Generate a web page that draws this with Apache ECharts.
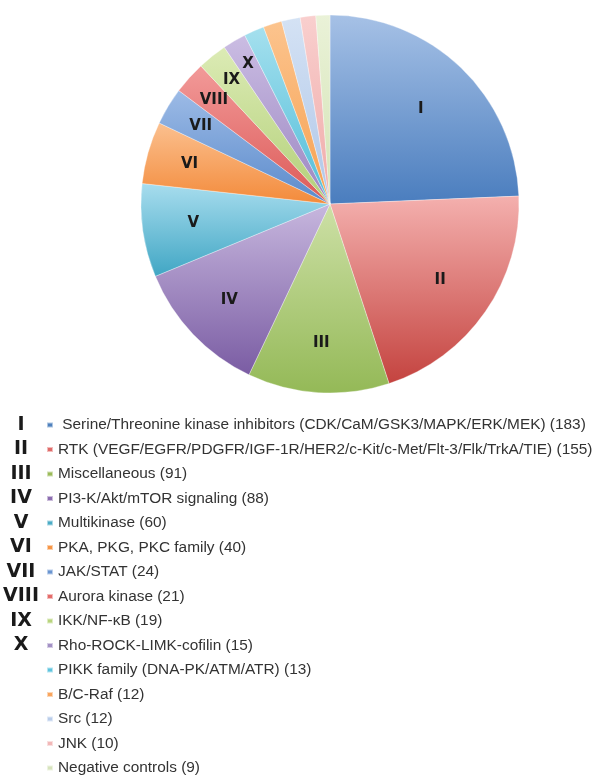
<!DOCTYPE html>
<html>
<head>
<meta charset="utf-8">
<script src="https://cdn.jsdelivr.net/npm/echarts@6/dist/echarts.min.js"></script>
<style>
html,body{margin:0;padding:0;background:#fff;}
#chart{width:601px;height:775px;}
</style>
</head>
<body>
<div id="chart"></div>
<script>
// ---- data ----
const categories = [
  'Serine/Threonine kinase inhibitors (CDK/CaM/GSK3/MAPK/ERK/MEK)',
  'RTK (VEGF/EGFR/PDGFR/IGF-1R/HER2/c-Kit/c-Met/Flt-3/Flk/TrkA/TIE)',
  'Miscellaneous',
  'PI3-K/Akt/mTOR signaling',
  'Multikinase',
  'PKA, PKG, PKC family',
  'JAK/STAT',
  'Aurora kinase',
  'IKK/NF-\u03baB',
  'Rho-ROCK-LIMK-cofilin',
  'PIKK family (DNA-PK/ATM/ATR)',
  'B/C-Raf',
  'Src',
  'JNK',
  'Negative controls'
];
const counts = [183, 155, 91, 88, 60, 40, 24, 21, 19, 15, 13, 12, 12, 10, 9];
const romanNumerals = ['I', 'II', 'III', 'IV', 'V', 'VI', 'VII', 'VIII', 'IX', 'X'];

// ---- styles ----
const lightColors = ['#A6C1E6','#F4B0AE','#CDE0A6','#C7B7DE','#A8DDEE','#FBC08F','#9DBBE6','#F29A99','#DCEBB5','#CBBDE3','#A5E0EE','#FCC48E','#D4E2F4','#F9CFCE','#EAF2D8'];
const darkColors  = ['#4A7DBE','#C4433F','#94B957','#7A5CA3','#40A6C4','#F38A3A','#5A8ACB','#DC5957','#B2CF78','#9B86C1','#4FBCD8','#F6A050','#AFC6E8','#EFAAA8','#D3E3B4'];
const solidColors = ['#4F81BD','#E06B69','#9BBB59','#8C6DB0','#4BACC6','#F79646','#6A95D1','#E46C6A','#B8D47D','#A391C5','#5EC4DE','#F9A55D','#B9CDEA','#F2B8B8','#D7E4BD'];
const labelRing = [128, 131, 136, 136, 135, 143, 148, 153, 155, 159];

const cx = 330, cy = 204, R = 189;
const legendTop = 425, rowH = 24.5, textLH = 16;

const chart = echarts.init(document.getElementById('chart'), null, {renderer: 'canvas'});

const pieData = categories.map((name, i) => ({
  name: name,
  value: counts[i],
  itemStyle: {
    color: {
      type: 'linear', x: 0, y: 0, x2: 0, y2: 1,
      colorStops: [{offset: 0, color: lightColors[i]}, {offset: 1, color: darkColors[i]}]
    }
  }
}));

const series = [{
  type: 'pie',
  center: [cx, cy],
  radius: [0, R],
  startAngle: 90,
  clockwise: true,
  silent: true,
  label: {show: false},
  labelLine: {show: false},
  itemStyle: {borderColor: 'rgba(255,255,255,0.55)', borderWidth: 0.6},
  data: pieData
}];

romanNumerals.forEach((rn, k) => {
  series.push({
    type: 'pie',
    center: [cx, cy],
    radius: [0, labelRing[k] * 2],
    startAngle: 90,
    clockwise: true,
    silent: true,
    z: 5,
    itemStyle: {color: 'rgba(0,0,0,0)', borderWidth: 0},
    labelLine: {show: false},
    label: {show: false},
    data: categories.map((name, i) => ({
      name: name,
      value: counts[i],
      label: i === k ? {
        show: true,
        position: 'inside',
        formatter: rn,
        color: '#1a1a1a',
        fontFamily: 'DejaVu Sans',
        fontWeight: 'bold',
        fontSize: 15
      } : {show: false}
    }))
  });
});

chart.setOption({
  animation: false,
  backgroundColor: '#ffffff',
  legend: {
    orient: 'vertical',
    left: 46,
    top: legendTop - textLH / 2,
    height: 400,
    padding: 0,
    icon: 'rect',
    itemWidth: 6,
    itemHeight: 5,
    itemGap: rowH - textLH,
    selectedMode: false,
    textStyle: {
      fontFamily: 'Liberation Sans',
      fontSize: 15.4,
      lineHeight: textLH,
      color: '#333333'
    },
    formatter: function (name) {
      const i = categories.indexOf(name);
      return (i === 0 ? ' ' : '') + name + ' (' + counts[i] + ')';
    },
    data: categories.map((name, i) => ({name: name, itemStyle: {color: solidColors[i]}}))
  },
  graphic: [{
    type: 'text',
    x: 21,
    y: legendTop - rowH / 2,
    style: {
      text: romanNumerals.join('\n'),
      align: 'center',
      verticalAlign: 'top',
      lineHeight: rowH,
      fontFamily: 'DejaVu Sans',
      fontWeight: 'bold',
      fontSize: 19,
      fill: '#1a1a1a'
    }
  }],
  series: series
});
</script>
</body>
</html>
